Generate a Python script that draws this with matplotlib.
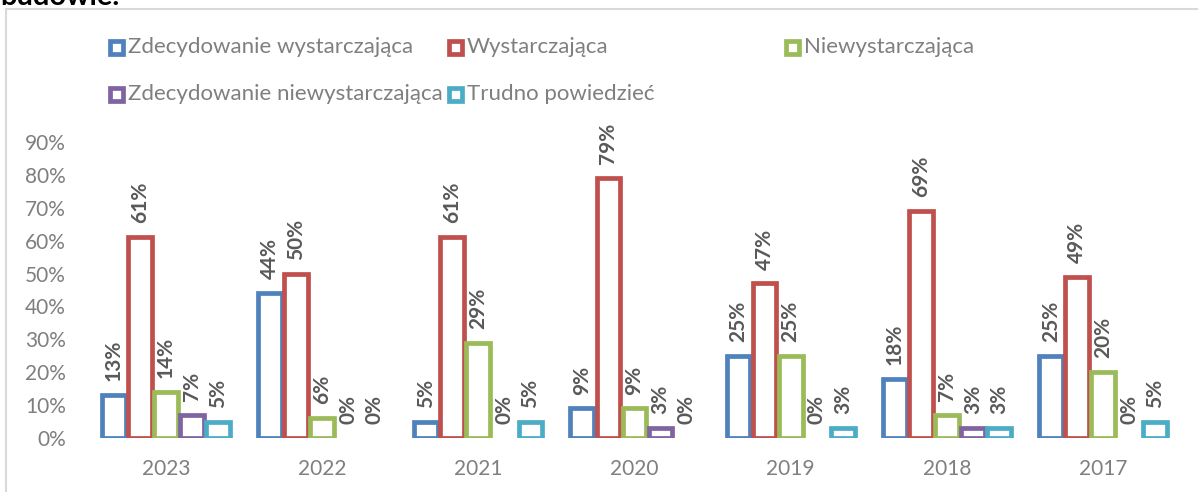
import matplotlib.pyplot as plt
import numpy as np
from matplotlib.patches import Rectangle
from matplotlib.lines import Line2D

years = ["2023", "2022", "2021", "2020", "2019", "2018", "2017"]
series_names = ["Zdecydowanie wystarczająca", "Wystarczająca", "Niewystarczająca",
                "Zdecydowanie niewystarczająca", "Trudno powiedzieć"]
zdec_wyst = [13, 44, 5, 9, 25, 18, 25]
wyst = [61, 50, 61, 79, 47, 69, 49]
niewyst = [14, 6, 29, 9, 25, 7, 20]
zdec_niewyst = [7, 0, 0, 3, 0, 3, 0]
trudno = [5, 0, 5, 0, 3, 3, 5]
colors = ['#4F81BD', '#C0504D', '#9BBB59', '#8064A2', '#4BACC6']

plt.rcParams['font.family'] = ['Lato', 'DejaVu Sans']

W, H = 1198, 492
fig = plt.figure(figsize=(W / 100, H / 100), dpi=100)
ax = fig.add_axes([88 / W, 54 / H, 1093 / W, 296 / H])

all_series = [zdec_wyst, wyst, niewyst, zdec_niewyst, trudno]
X = np.arange(len(years))
pitch = 0.167
width = 0.152
for i, vals in enumerate(all_series):
    v = np.array(vals) / 100.0
    pos = X + (i - 2) * pitch
    lw = [3.4 if x > 0 else 0 for x in vals]
    ax.bar(pos, v, width=width, facecolor='white', edgecolor=colors[i], linewidth=lw)
    for p, h, raw in zip(pos, v, vals):
        ax.annotate("%d%%" % raw, (p, h), xytext=(0, 10), textcoords='offset points',
                    rotation=90, ha='center', va='bottom', fontsize=15,
                    fontweight='bold', color='#595959', annotation_clip=False)

ax.set_xlim(-0.5, len(years) - 0.5)
ax.set_ylim(0, 0.9)
ax.set_yticks(np.arange(0, 0.91, 0.1))
ax.set_yticklabels(["%d%%" % t for t in range(0, 91, 10)])
ax.set_xticks(X)
ax.set_xticklabels(years)
ax.tick_params(axis='y', length=0, pad=16, labelsize=15, labelcolor='#7f7f7f')
ax.tick_params(axis='x', length=0, pad=15, labelsize=15, labelcolor='#7f7f7f')
for s in ax.spines.values():
    s.set_visible(False)

# legend drawn by hand to match the spacing
leg_pos = [(116, 47), (455, 47), (792, 47), (116, 94), (455, 94)]
for name, c, (lx, ly) in zip(series_names, colors, leg_pos):
    fig.patches.append(Rectangle(((lx - 6.5) / W, 1 - (ly + 6.5) / H), 13 / W, 13 / H,
                                 transform=fig.transFigure, facecolor='white',
                                 edgecolor=c, linewidth=3.4))
    fig.text((lx + 12) / W, 1 - ly / H, name, ha='left', va='center',
             fontsize=16, color='#7f7f7f')

# chart border (left and top edges visible)
fig.lines.append(Line2D([6 / W, 6 / W], [0, 1 - 9 / H], transform=fig.transFigure,
                        color='#d9d9d9', linewidth=1.5))
fig.lines.append(Line2D([6 / W, 1], [1 - 9 / H, 1 - 9 / H], transform=fig.transFigure,
                        color='#d9d9d9', linewidth=1.5))

# caption text, cut off at the top of the crop as in the source
fig.text(0.0, 1 - 5 / H, "budowie.", ha='left', va='baseline', fontsize=21,
         fontweight='bold', color='black')

plt.savefig("out.png", dpi=100)
